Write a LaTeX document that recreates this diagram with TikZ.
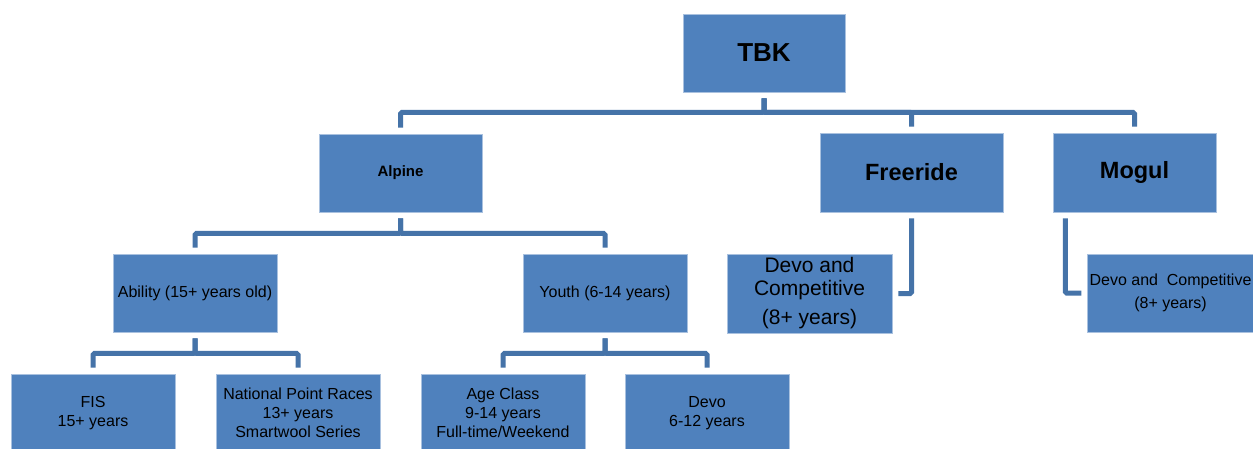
\documentclass[tikz,border=0pt]{standalone}
\usepackage{fontspec}
\setmainfont{Liberation Sans}
\usetikzlibrary{calc}
\definecolor{boxblue}{HTML}{4F81BD}
\definecolor{boxedge}{HTML}{A9C1DF}
\definecolor{connblue}{HTML}{4573A8}
\tikzset{
  box/.style={rectangle, fill=boxblue, draw=boxedge, line width=0.6pt, minimum width=164pt, minimum height=78pt, inner sep=2pt, align=center, text=black},
  conn/.style={draw=connblue, line width=5pt, rounded corners=1.5pt},
  bigbold/.style={font=\fontsize{23.5}{28}\selectfont\bfseries},
  small/.style={font=\fontsize{16}{19}\selectfont},
}
\begin{document}
\begin{tikzpicture}[x=1pt,y=-1pt]
\clip (0,0) rectangle (1253,448);
\fill[white] (0,0) rectangle (1253,448);
% level 0
\node[box, minimum width=162pt, font=\fontsize{26}{30}\selectfont\bfseries] (tbk) at (764,53) {TBK};
% level 1
\node[box, minimum width=163pt, font=\fontsize{15}{18}\selectfont\bfseries] (alpine) at (400.5,173) {Alpine};
\node[box, minimum width=183pt, minimum height=79pt, bigbold] (freeride) at (911.5,172.5) {Freeride};
\node[box, minimum width=163pt, minimum height=79pt, bigbold] (mogul) at (1134.5,172.5) {Mogul};
% level 2
\node[box, small] (ability) at (195,293) {Ability (15+ years old)};
\node[box, small] (youth) at (605,293) {Youth (6-14 years)};
\node[box, minimum width=165pt, minimum height=79pt, font=\fontsize{21}{23}\selectfont] (fdevo) at (809.5,293.5) {Devo and\\Competitive\\[6pt](8+ years)};
\node[box, minimum width=163pt, font=\fontsize{16}{23}\selectfont] (mdevo) at (1170.5,293) {Devo and\ \ Competitive\\(8+ years)};
% level 3
\node[box, small] (fis) at (93,413) {FIS\\15+ years};
\node[box, small] (npr) at (298,413) {National Point Races\\13+ years\\Smartwool Series};
\node[box, small] (age) at (503,413) {Age Class\\9-14 years\\Full-time/Weekend};
\node[box, small] (devo) at (707,413) {Devo\\6-12 years};
% connectors
\foreach \c in {alpine, freeride, mogul}
  \draw[conn] ([yshift=-6pt]tbk.south) -- ++(0,14) -| ([yshift=6pt]\c.north);
\foreach \c in {ability, youth}
  \draw[conn] ([yshift=-6pt]alpine.south) -- ++(0,15) -| ([yshift=6pt]\c.north);
\foreach \c in {fis, npr}
  \draw[conn] ([yshift=-6pt]ability.south) -- ++(0,15) -| ([yshift=6pt]\c.north);
\foreach \c in {age, devo}
  \draw[conn] ([yshift=-6pt]youth.south) -- ++(0,15) -| ([yshift=6pt]\c.north);
\draw[conn] ([yshift=-6pt]freeride.south) |- ([xshift=6pt]fdevo.east);
\draw[conn] ($(mogul.south -| mdevo.west)+(-22,6)$) |- ([xshift=-6pt]mdevo.west);
\end{tikzpicture}
\end{document}
